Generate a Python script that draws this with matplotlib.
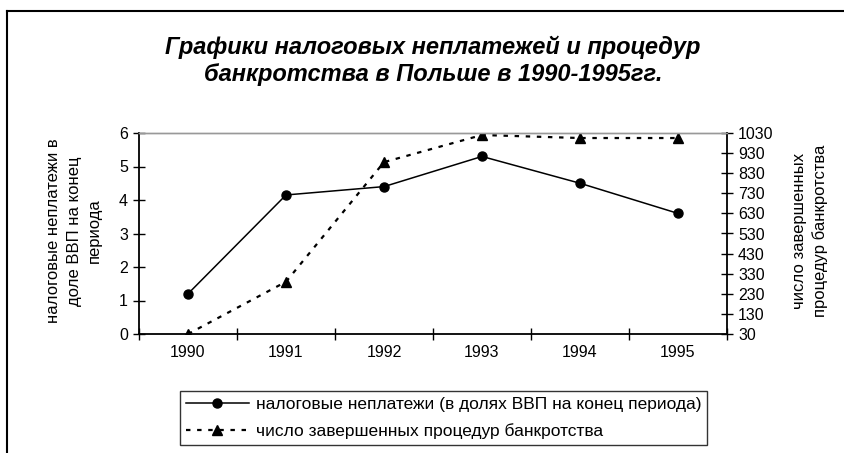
import matplotlib
matplotlib.use("Agg")
import matplotlib.pyplot as plt
from matplotlib.lines import Line2D

plt.rcParams['font.family'] = ['Liberation Sans', 'DejaVu Sans']

years = ['1990', '1991', '1992', '1993', '1994', '1995']
arrears = [1.2, 4.15, 4.4, 5.3, 4.5, 3.6]
bankruptcies = [30, 290, 885, 1020, 1005, 1005]

left_ticks = [0, 1, 2, 3, 4, 5, 6]
right_ticks = list(range(30, 1031, 100))

W, H = 845, 453
fig = plt.figure(figsize=(W / 100, H / 100), dpi=100)
ax = fig.add_axes([139 / W, 1 - 334 / H, (727 - 139) / W, (334 - 133) / H])
ax2 = ax.twinx()

x = list(range(len(years)))
l1, = ax.plot(x, arrears, color='black', lw=1.1, marker='o', markersize=6.5,
              label='налоговые неплатежи (в долях ВВП на конец периода)')
l2, = ax2.plot(x, bankruptcies, color='black', lw=1.6, linestyle=(0, (2, 3)),
               marker='^', markersize=7.5,
               label='число завершенных процедур банкротства')

ax.set_xlim(-0.5, len(years) - 0.5)
ax.set_ylim(0, 6)
ax2.set_ylim(30, 1030)
ax.set_yticks(left_ticks)
ax2.set_yticks(right_ticks)

# category axis: ticks between categories, labels centred
ax.set_xticks([i - 0.5 for i in range(len(years) + 1)])
ax.set_xticklabels([])
ax.set_xticks(x, minor=True)
ax.set_xticklabels(years, minor=True)
ax.tick_params(axis='x', which='minor', length=0, labelsize=11.5, pad=8)
ax.tick_params(axis='x', which='major', direction='inout', length=8, width=1)
ax.tick_params(axis='y', direction='inout', length=8, width=1, labelsize=11.5, pad=4)
ax2.tick_params(axis='y', direction='inout', length=8, width=1, labelsize=11.5, pad=4)

for a in (ax, ax2):
    a.spines['top'].set_color('#999999')
    a.spines['top'].set_linewidth(1)
ax.spines['left'].set_linewidth(1.3)
ax.spines['bottom'].set_linewidth(1.3)
ax2.spines['right'].set_linewidth(1.3)
ax.spines['right'].set_visible(False)
ax2.spines['left'].set_visible(False)
ax2.spines['bottom'].set_visible(False)

fig.text(74 / W, 1 - 231 / H, 'налоговые неплатежи в\nдоле ВВП на конец\nпериода',
         rotation=90, ha='center', va='center', fontsize=12, linespacing=1.45)
fig.text(810 / W, 1 - 231 / H, 'число завершенных\nпроцедур банкротства',
         rotation=90, ha='center', va='center', fontsize=12, linespacing=1.4)

fig.text(433 / W, 1 - 61 / H,
         'Графики налоговых неплатежей и процедур\nбанкротства в Польше в 1990-1995гг.',
         ha='center', va='center', fontsize=17, fontweight='bold', fontstyle='italic',
         linespacing=1.2)

leg = fig.legend(handles=[l1, l2], loc='upper left',
                 bbox_to_anchor=(180 / W, 1 - 391 / H), fontsize=12.5,
                 frameon=True, fancybox=False, edgecolor='black',
                 handlelength=3.6, handletextpad=0.4, borderpad=0.35,
                 labelspacing=0.65, borderaxespad=0)
leg.get_frame().set_linewidth(1)

# outer chart frame (left and top edges visible)
fig.add_artist(Line2D([7 / W, 7 / W], [0, 1 - 11 / H], color='black', lw=1.5,
                      transform=fig.transFigure))
fig.add_artist(Line2D([7 / W, 1], [1 - 11 / H, 1 - 11 / H], color='black', lw=1.5,
                      transform=fig.transFigure))

fig.savefig('out.png', dpi=100)
